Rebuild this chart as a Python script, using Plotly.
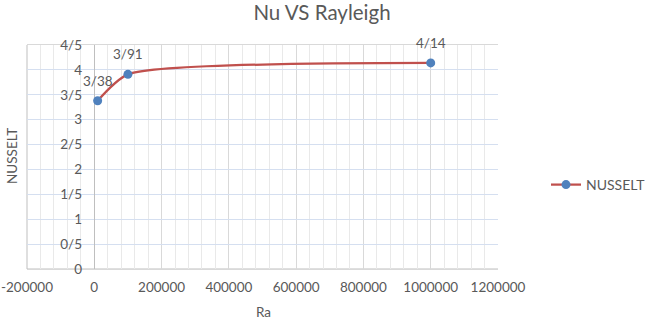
import plotly.graph_objects as go

ra = [10000, 100000, 1000000]
nusselt = [3.38, 3.91, 4.14]
point_labels = ["3/38", "3/91", "4/14"]
y_tick_vals = [0, 0.5, 1, 1.5, 2, 2.5, 3, 3.5, 4, 4.5]
y_tick_text = ["0", "0/5", "1", "1/5", "2", "2/5", "3", "3/5", "4", "4/5"]
x_tick_vals = [-200000, 0, 200000, 400000, 600000, 800000, 1000000, 1200000]
x_tick_text = ["-200000", "0", "200000", "400000", "600000", "800000", "1000000", "1200000"]

W, H = 645, 321
L, T = 27, 45
R = W - 498
B = H - 269
PW, PH = W - L - R, H - T - B
FONT = "Lato"
GREY = "#595959"

def px(x):  # page pixel x -> paper fraction
    return (x - L) / PW

def py(y):  # page pixel y -> paper fraction
    return 1 - (y - T) / PH

fig = go.Figure()
fig.add_trace(go.Scatter(
    x=ra, y=nusselt, mode="lines+markers", name="NUSSELT",
    line=dict(color="#c0504d", width=2.25, shape="spline", smoothing=0.6),
    marker=dict(color="#4f81bd", size=9),
    cliponaxis=False,
))

annotations = [
    dict(x=xv, y=yv, text=t, xref="x", yref="y", showarrow=False, yshift=20,
         xanchor="center", yanchor="middle", font=dict(family=FONT, size=13.5, color=GREY))
    for xv, yv, t in zip(ra, nusselt, point_labels)
]
annotations += [
    dict(text="NUSSELT", xref="paper", yref="paper", x=px(12), y=py(156), textangle=-90,
         showarrow=False, xanchor="center", yanchor="middle",
         font=dict(family=FONT, size=13.5, color=GREY)),
    dict(text="Ra", xref="paper", yref="paper", x=px(263), y=py(312),
         showarrow=False, xanchor="center", yanchor="middle",
         font=dict(family=FONT, size=13.5, color=GREY)),
]

fig.update_layout(
    width=W, height=H,
    margin=dict(l=L, r=R, t=T, b=B, autoexpand=False),
    paper_bgcolor="white", plot_bgcolor="white",
    font=dict(family=FONT, size=13, color=GREY),
    title=dict(text="Nu VS Rayleigh", x=322 / W, xanchor="center",
               y=1 - 13 / H, yanchor="middle",
               font=dict(family=FONT, size=20.5, color=GREY)),
    showlegend=True,
    legend=dict(xref="container", yref="container", x=546 / W, y=1 - 185 / H,
                xanchor="left", yanchor="middle", font=dict(family=FONT, size=14, color=GREY),
                bgcolor="rgba(0,0,0,0)", itemwidth=30),
    xaxis=dict(
        range=[-200000, 1200000], tickvals=x_tick_vals, ticktext=x_tick_text,
        showgrid=True, gridcolor="#d9d9d9", gridwidth=1,
        minor=dict(dtick=40000, tick0=0, showgrid=True, gridcolor="#e9e9e9", gridwidth=1),
        zeroline=True, zerolinecolor="#bfbfbf", zerolinewidth=1,
        showline=True, linecolor="#d9d9d9", mirror=True,
        ticks="", ticklabelstandoff=6, tickfont=dict(family=FONT, size=13.5, color=GREY),
        automargin=False, fixedrange=True,
    ),
    yaxis=dict(
        range=[0, 4.5], tickvals=y_tick_vals, ticktext=y_tick_text,
        showgrid=True, gridcolor="#d5dff0", gridwidth=1,
        zeroline=False, showline=False,
        anchor="free", position=px(95),
        ticks="", ticklabelstandoff=13, tickfont=dict(family=FONT, size=13.5, color=GREY),
        automargin=False, fixedrange=True,
    ),
    annotations=annotations,
)
fig.add_shape(type="line", xref="paper", yref="paper", x0=0, x1=0, y0=0, y1=1,
              line=dict(color="#bfbfbf", width=1), layer="below")
fig.add_shape(type="line", xref="paper", yref="paper", x0=0, x1=1, y0=0, y1=0,
              line=dict(color="#bfbfbf", width=1), layer="below")

fig.write_html("out.html", config={"displayModeBar": False},
               post_script="document.body.style.margin='0px';")
